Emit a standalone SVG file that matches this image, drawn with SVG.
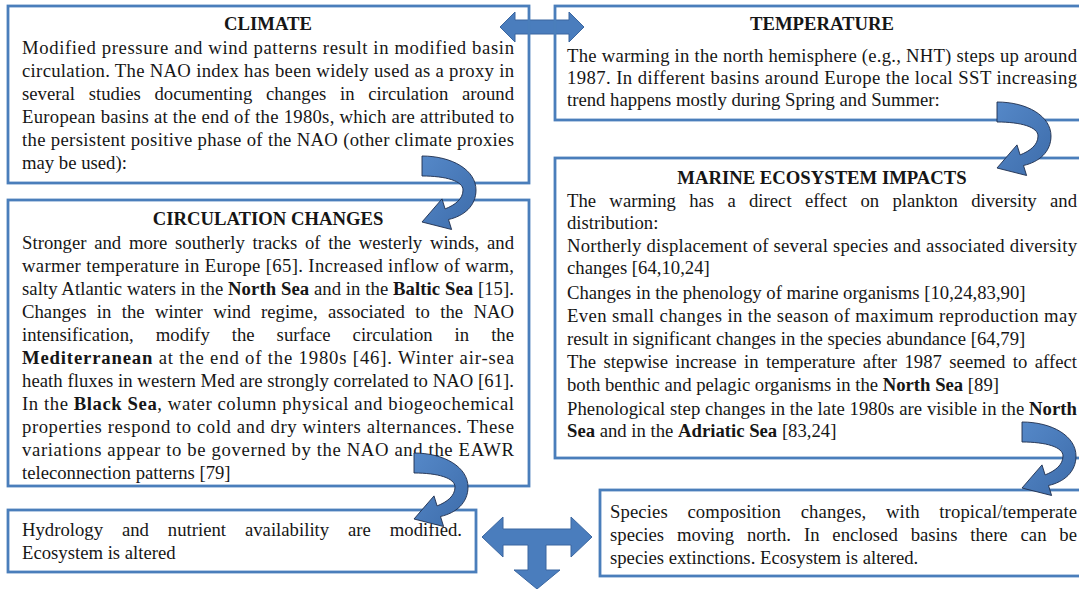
<svg xmlns="http://www.w3.org/2000/svg" width="1079" height="589" viewBox="0 0 1079 589">
<style>
.box{fill:none;stroke:#4a7ebb;stroke-width:2.8}
text{font-family:"Liberation Serif","Times New Roman",serif;font-size:18.7px;fill:#161616}
.t{font-weight:bold;text-anchor:middle}
.b{font-weight:bold}
.arr{fill:url(#g);stroke:#1d2c4c;stroke-width:0.9}
.big{fill:#4a7dbd;stroke:#3a66a0;stroke-width:1}
</style>
<defs>
<linearGradient id="g" x1="0" y1="0" x2="1" y2="1">
<stop offset="0" stop-color="#5588c8"/>
<stop offset="1" stop-color="#3d6caa"/>
</linearGradient>
<path id="curve" d="M0,0 C30,0 54,14 54,34 C54,50 42,60 26.5,63.5 L29.6,73.5 L0,66 L20,42.9 L23.1,52.9 C33,49 41,43 41,34 C41,25 24,20 0,20 Z"/>
</defs>
<rect width="1079" height="589" fill="#fff"/>
<g id="connector-back">
<path class="big" d="M500,27 L515,12 L515,20 L569,20 L569,12 L584,27 L569,42 L569,34 L515,34 L515,42 Z"/>
</g>
<g id="climate">
<rect class="box" x="8" y="6" width="521" height="177"/>
<text class="t" x="268" y="30">CLIMATE</text>
<text x="22" y="54" textLength="492" lengthAdjust="spacing">Modified pressure and wind patterns result in modified basin</text>
<text x="22" y="77" textLength="492" lengthAdjust="spacing">circulation. The NAO index has been widely used as a proxy in</text>
<text x="22" y="100" word-spacing="9" textLength="492" lengthAdjust="spacing">several studies documenting changes in circulation around</text>
<text x="22" y="123" textLength="492" lengthAdjust="spacing">European basins at the end of the 1980s, which are attributed to</text>
<text x="22" y="146" textLength="492" lengthAdjust="spacing">the persistent positive phase of the NAO (other climate proxies</text>
<text x="22" y="169">may be used):</text>
</g>
<g id="circulation">
<rect class="box" x="8" y="200" width="521" height="286"/>
<text class="t" x="268" y="225">CIRCULATION CHANGES</text>
<text x="22" y="249" word-spacing="3" textLength="492" lengthAdjust="spacing">Stronger and more southerly tracks of the westerly winds, and</text>
<text x="22" y="272" textLength="492" lengthAdjust="spacing">warmer temperature in Europe [65]. Increased inflow of warm,</text>
<text x="22" y="295" textLength="492" lengthAdjust="spacing">salty Atlantic waters in the <tspan class="b">North Sea</tspan> and in the <tspan class="b">Baltic Sea</tspan> [15].</text>
<text x="22" y="318" word-spacing="5.7" textLength="492" lengthAdjust="spacing">Changes in the winter wind regime, associated to the NAO</text>
<text x="22" y="341" word-spacing="17.3" textLength="492" lengthAdjust="spacing">intensification, modify the surface circulation in the</text>
<text x="22" y="364" textLength="492" lengthAdjust="spacing"><tspan class="b">Mediterranean</tspan> at the end of the 1980s [46]. Winter air-sea</text>
<text x="22" y="387" textLength="492" lengthAdjust="spacing">heath fluxes in western Med are strongly correlated to NAO [61].</text>
<text x="22" y="410" textLength="492" lengthAdjust="spacing">In the <tspan class="b">Black Sea</tspan>, water column physical and biogeochemical</text>
<text x="22" y="433" textLength="492" lengthAdjust="spacing">properties respond to cold and dry winters alternances. These</text>
<text x="22" y="456" textLength="492" lengthAdjust="spacing">variations appear to be governed by the NAO and the EAWR</text>
<text x="22" y="479">teleconnection patterns [79]</text>
</g>
<g id="hydrology">
<rect class="box" x="8" y="510" width="468" height="62"/>
<text x="22" y="536" word-spacing="14.2" textLength="440" lengthAdjust="spacing">Hydrology and nutrient availability are modified.</text>
<text x="22" y="559">Ecosystem is altered</text>
</g>
<g id="temperature">
<rect class="box" x="555" y="6" width="530" height="114"/>
<text class="t" x="822" y="30">TEMPERATURE</text>
<text x="567" y="62" textLength="510" lengthAdjust="spacing">The warming in the north hemisphere (e.g., NHT) steps up around</text>
<text x="567" y="84" textLength="510" lengthAdjust="spacing">1987. In different basins around Europe the local SST increasing</text>
<text x="567" y="106">trend happens mostly during Spring and Summer:</text>
</g>
<g id="marine">
<rect class="box" x="555" y="158" width="530" height="300"/>
<text class="t" x="822" y="184">MARINE ECOSYSTEM IMPACTS</text>
<text x="567" y="207" word-spacing="8.6" textLength="510" lengthAdjust="spacing">The warming has a direct effect on plankton diversity and</text>
<text x="567" y="229">distribution:</text>
<text x="567" y="252" textLength="510" lengthAdjust="spacing">Northerly displacement of several species and associated diversity</text>
<text x="567" y="274">changes [64,10,24]</text>
<text x="567" y="299">Changes in the phenology of marine organisms [10,24,83,90]</text>
<text x="567" y="322" textLength="510" lengthAdjust="spacing">Even small changes in the season of maximum reproduction may</text>
<text x="567" y="345">result in significant changes in the species abundance [64,79]</text>
<text x="567" y="368" word-spacing="2.7" textLength="510" lengthAdjust="spacing">The stepwise increase in temperature after 1987 seemed to affect</text>
<text x="567" y="391">both benthic and pelagic organisms in the <tspan class="b">North Sea</tspan> [89]</text>
<text x="567" y="415" textLength="510" lengthAdjust="spacing">Phenological step changes in the late 1980s are visible in the <tspan class="b">North</tspan></text>
<text x="567" y="437"><tspan class="b">Sea</tspan> and in the <tspan class="b">Adriatic Sea</tspan> [83,24]</text>
</g>
<g id="species">
<rect class="box" x="600" y="490" width="485" height="86"/>
<text x="610" y="518" word-spacing="14.9" textLength="467" lengthAdjust="spacing">Species composition changes, with tropical/temperate</text>
<text x="610" y="541" word-spacing="8.2" textLength="467" lengthAdjust="spacing">species moving north. In enclosed basins there can be</text>
<text x="610" y="564">species extinctions. Ecosystem is altered.</text>
</g>
<g id="connectors">
<use href="#curve" class="arr" transform="translate(422,156)"/>
<use href="#curve" class="arr" transform="translate(997,102)"/>
<use href="#curve" class="arr" transform="translate(414,453)"/>
<use href="#curve" class="arr" transform="translate(1022,422)"/>
<path class="big" d="M482,537 L503,517 L503,529 L571,529 L571,517 L592,537 L571,557 L571,545 L546,545 L546,570 L560,570 L537,589 L514,570 L528,570 L528,545 L503,545 L503,557 Z"/>
</g>
</svg>
